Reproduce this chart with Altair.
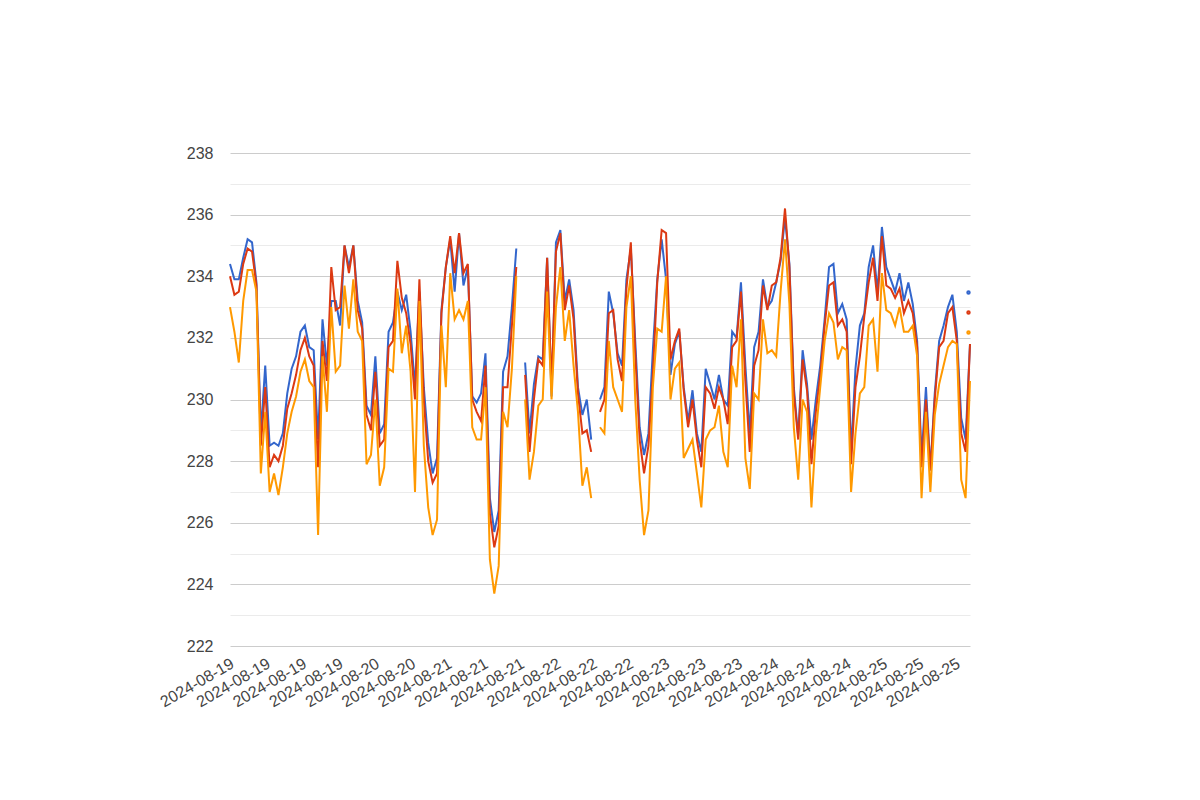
import json
import altair as alt
import pandas as pd

series_names = ["L1", "L2", "L3"]
series_colors = ["#3366cc", "#dc3912", "#ff9900"]

tick_labels = ["2024-08-19", "2024-08-19", "2024-08-19", "2024-08-19",
               "2024-08-20", "2024-08-20",
               "2024-08-21", "2024-08-21", "2024-08-21",
               "2024-08-22", "2024-08-22", "2024-08-22",
               "2024-08-23", "2024-08-23", "2024-08-23",
               "2024-08-24", "2024-08-24", "2024-08-24",
               "2024-08-25", "2024-08-25", "2024-08-25"]

N = None
blue = [234.4, 233.9, 233.9, 234.6, 235.2, 235.1, 233.8, 228.9, 231.1, 228.5,
        228.6, 228.5, 228.9, 230.2, 231.0, 231.4, 232.2, 232.4, 231.7, 231.6,
        228.7, 232.6, 231.1, 233.2, 233.2, 232.4, 235.0, 234.3, 235.0, 233.2,
        232.5, 229.8, 229.5, 231.4, 228.9, 229.2, 232.2, 232.5, 233.5, 232.9,
        233.4, 232.2, 230.4, 233.5, 230.4, 228.6, 227.6, 228.1, 232.9, 234.3,
        235.2, 233.5, 235.4, 233.7, 234.3, 230.1, 229.9, 230.2, 231.5, 226.8,
        225.7, 226.4, 230.9, 231.4, 233.0, 234.9, N, 231.2, 228.9, 230.5,
        231.4, 231.3, 234.6, 230.1, 235.1, 235.5, 233.2, 233.9, 232.9, 230.4,
        229.5, 230.0, 228.7, N, 230.0, 230.4, 233.5, 232.8, 231.5, 231.1,
        233.9, 234.9, 231.9, 229.1, 228.2, 228.9, 231.6, 233.9, 235.2, 233.9,
        230.8, 231.8, 232.2, 230.4, 229.3, 230.3, 228.9, 228.3, 231.0, 230.5,
        230.0, 230.8, 230.0, 229.8, 232.2, 232.0, 233.8, 231.1, 228.9, 231.7,
        232.2, 233.9, 233.0, 233.2, 233.8, 234.5, 235.9, 234.4, 230.4, 228.8,
        231.6, 230.5, 228.7, 230.0, 231.1, 232.6, 234.3, 234.4, 232.8, 233.1,
        232.6, 228.3, 231.0, 232.4, 232.8, 234.3, 235.0, 233.5, 235.6, 234.3,
        233.9, 233.5, 234.1, 233.2, 233.8, 233.1, 231.9, 228.1, 230.4, 227.7,
        230.2, 231.9, 232.4, 233.0, 233.4, 232.2, 229.4, 228.7, 231.8]

red = [234.0, 233.4, 233.5, 234.4, 234.9, 234.8, 233.7, 228.5, 230.4, 227.8,
       228.2, 228.0, 228.5, 229.7, 230.2, 230.8, 231.6, 232.0, 231.4, 231.1,
       227.8, 231.9, 230.6, 234.3, 232.9, 233.0, 235.0, 234.1, 235.0, 232.9,
       232.3, 229.5, 229.0, 230.9, 228.5, 228.7, 231.7, 231.9, 234.5, 233.3,
       232.8, 231.8, 230.0, 233.9, 230.0, 228.0, 227.3, 227.6, 232.8, 234.3,
       235.3, 234.1, 235.4, 234.1, 234.4, 230.0, 229.6, 229.3, 231.1, 226.3,
       225.2, 225.9, 230.4, 230.4, 232.4, 234.3, N, 230.8, 228.3, 230.0,
       231.3, 231.1, 234.6, 230.4, 234.8, 235.4, 232.9, 233.7, 232.6, 230.2,
       228.9, 229.0, 228.3, N, 229.6, 230.0, 232.8, 232.9, 231.3, 230.6,
       233.6, 235.1, 231.5, 228.7, 227.6, 228.5, 230.8, 233.8, 235.5, 235.4,
       231.3, 231.9, 232.3, 230.3, 229.1, 230.0, 228.7, 227.8, 230.4, 230.2,
       229.7, 230.4, 230.0, 229.2, 231.7, 231.9, 233.5, 230.6, 228.3, 231.1,
       231.6, 233.7, 232.9, 233.7, 233.8, 234.6, 236.2, 234.3, 230.2, 228.7,
       231.3, 230.3, 227.9, 229.6, 230.8, 232.4, 233.7, 233.8, 232.4, 232.6,
       232.2, 227.9, 230.4, 231.4, 232.7, 233.8, 234.6, 233.2, 235.3, 233.7,
       233.6, 233.3, 233.6, 232.8, 233.2, 232.8, 231.7, 227.8, 230.0, 227.7,
       230.0, 231.7, 231.9, 232.8, 233.0, 231.9, 228.9, 228.3, 231.8]

orange = [233.0, 232.2, 231.2, 233.2, 234.2, 234.2, 233.5, 227.6, 229.6, 227.0,
          227.6, 226.9, 227.8, 228.9, 229.6, 230.1, 230.9, 231.3, 230.6, 230.4,
          225.6, 231.4, 229.6, 233.0, 230.9, 231.1, 233.7, 232.3, 233.9, 232.2,
          231.9, 227.9, 228.2, 230.0, 227.2, 227.8, 231.0, 230.9, 233.6, 231.5,
          232.4, 230.9, 227.0, 233.2, 228.5, 226.5, 225.6, 226.1, 232.4, 230.4,
          234.1, 232.6, 232.9, 232.6, 233.2, 229.1, 228.7, 228.7, 230.4, 224.8,
          223.7, 224.6, 229.6, 229.1, 231.0, 234.0, N, 230.0, 227.4, 228.3,
          229.8, 230.0, 233.5, 230.0, 233.0, 234.3, 231.9, 232.9, 231.1, 229.6,
          227.2, 227.8, 226.8, N, 229.1, 228.9, 231.9, 230.4, 230.0, 229.6,
          233.0, 234.0, 230.0, 227.4, 225.6, 226.4, 230.4, 232.3, 232.2, 234.0,
          230.0, 231.0, 231.2, 228.1, 228.4, 228.7, 227.6, 226.5, 228.7, 229.0,
          229.1, 229.8, 228.3, 227.8, 231.1, 230.4, 232.6, 228.1, 227.1, 230.2,
          230.0, 232.6, 231.5, 231.6, 231.4, 233.5, 235.2, 233.1, 229.1, 227.4,
          230.0, 229.6, 226.5, 228.9, 230.4, 231.9, 232.8, 232.5, 231.3, 231.7,
          231.6, 227.0, 228.9, 230.2, 230.4, 232.4, 232.6, 230.9, 234.1, 232.9,
          232.8, 232.4, 233.0, 232.2, 232.2, 232.4, 231.4, 226.8, 229.6, 227.0,
          229.5, 230.5, 231.1, 231.7, 231.9, 231.8, 227.4, 226.8, 230.6]

rows = []
for name, vals in zip(series_names, [blue, red, orange]):
    for i, v in enumerate(vals):
        rows.append({"idx": i, "v": v, "series": name})
df = pd.DataFrame(rows)

n_pts = len(blue)
tick_step = 8.24
tick_pos = [0.5 + tick_step * j for j in range(len(tick_labels))]
x_label_expr = "{}[round((datum.value - 0.5) / {})]".format(json.dumps(tick_labels), tick_step)

FONT = "Arial, Liberation Sans, sans-serif"

chart = alt.Chart(df).mark_line(strokeWidth=2, invalid="break-paths-show-domains").encode(
    x=alt.X("idx:Q",
            scale=alt.Scale(domain=[0, n_pts - 1], nice=False, zero=False),
            axis=alt.Axis(values=tick_pos, labelExpr=x_label_expr, labelAngle=-30,
                          labelAlign="right", labelBaseline="middle", labelOverlap=False,
                          labelPadding=16, labelFontSize=16, labelColor="#444444",
                          labelFont=FONT, grid=False, ticks=False, domain=False, title=None)),
    y=alt.Y("v:Q",
            scale=alt.Scale(domain=[222, 238], nice=False, zero=False),
            axis=alt.Axis(values=list(range(222, 239)),
                          labelExpr="datum.value % 2 == 0 ? datum.label : ''",
                          gridColor={"condition": {"test": "datum.value % 2 == 0", "value": "#cccccc"},
                                     "value": "#ebebeb"},
                          labelFontSize=16, labelColor="#444444", labelFont=FONT,
                          labelPadding=17, domain=False, ticks=False, title=None)),
    color=alt.Color("series:N",
                    scale=alt.Scale(domain=series_names, range=series_colors),
                    legend=alt.Legend(orient="none", legendX=736, legendY=137, title=None,
                                      labelExpr="''", symbolType="circle", symbolSize=6,
                                      symbolStrokeWidth=2, rowPadding=9, padding=0,
                                      labelFontSize=1)),
).properties(
    width=740, height=493,
    autosize=alt.AutoSizeParams(type="none"),
    padding={"left": 222, "top": 145, "right": 200, "bottom": 120},
).configure_view(stroke=None)

chart.save("out.html", embed_options={"renderer": "svg", "actions": False})
